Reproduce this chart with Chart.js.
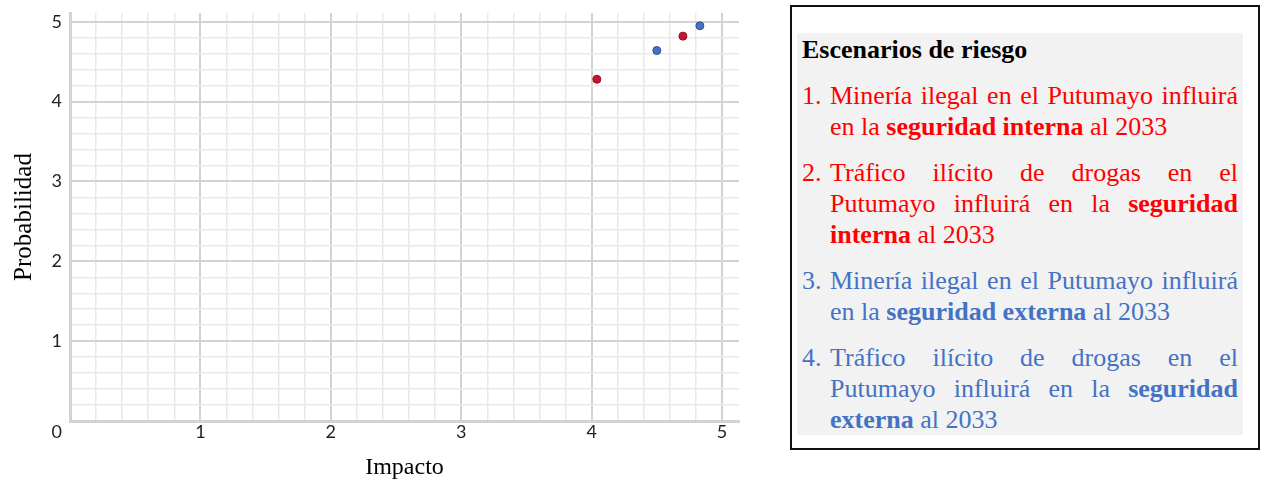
<!DOCTYPE html>
<html lang="es">
<head>
<meta charset="utf-8">
<title>Escenarios de riesgo</title>
<script src="https://cdn.jsdelivr.net/npm/chart.js@4.4.1/dist/chart.umd.min.js"></script>
<style>
  html, body { margin: 0; padding: 0; background: #fff; }
  body { width: 1264px; height: 481px; position: relative; overflow: hidden; }
  #chartBox { position: absolute; left: 0; top: 0; width: 760px; height: 481px; }
  #leyenda {
    position: absolute; left: 790px; top: 5px;
    width: 466px; height: 441px;
    border: 2px solid #111; background: #fff;
    font-family: "Liberation Serif", "Times New Roman", serif;
    font-size: 26px; line-height: 31px;
  }
  #leyenda .fondo {
    position: absolute; left: 5px; top: 26px; width: 436px;
    padding: 1px 5px 0 5px; background: #f2f2f2;
  }
  #leyenda h3 { margin: 0; font-size: 26px; font-weight: bold; color: #000; }
  #leyenda .item { display: flex; margin-top: 15px; }
  #leyenda .num { width: 28px; flex: none; }
  #leyenda .txt { width: 408px; text-align: justify; }
  .rojo { color: #ff0000; }
  .azul { color: #4472c4; }
</style>
</head>
<body>
<div id="chartBox"><canvas id="riesgo"></canvas></div>

<div id="leyenda">
  <div class="fondo">
    <h3>Escenarios de riesgo</h3>
    <div class="item rojo"><span class="num">1.</span><span class="txt">Minería ilegal en el Putumayo influirá en la <b>seguridad interna</b> al 2033</span></div>
    <div class="item rojo"><span class="num">2.</span><span class="txt">Tráfico ilícito de drogas en el Putumayo influirá en la <b>seguridad interna</b> al 2033</span></div>
    <div class="item azul"><span class="num">3.</span><span class="txt">Minería ilegal en el Putumayo influirá en la <b>seguridad externa</b> al 2033</span></div>
    <div class="item azul"><span class="num">4.</span><span class="txt">Tráfico ilícito de drogas en el Putumayo influirá en la <b>seguridad externa</b> al 2033</span></div>
  </div>
</div>

<script>
// datos
var escenarios = ['1', '2', '3', '4'];
var impacto = [4.04, 4.70, 4.50, 4.83];
var probabilidad = [4.28, 4.82, 4.64, 4.95];

var colorPunto = ['#cc1230', '#cc1230', '#4472c4', '#4472c4'];
var bordePunto = ['#8e1426', '#8e1426', '#2f528f', '#2f528f'];

function esEntero(v) {
    return Math.abs(v - Math.round(v)) < 1e-6;
}

var puntos = [];
for (var i = 0; i < escenarios.length; i++) {
    puntos.push({ x: impacto[i], y: probabilidad[i] });
}

var gridMayor = '#d3d3d3';
var gridMenor = '#e9e9e9';

function rejilla() {
    return {
        color: function(ctx) { return ctx.tick && esEntero(ctx.tick.value) ? gridMayor : gridMenor; },
        lineWidth: function(ctx) { return ctx.tick && esEntero(ctx.tick.value) ? 2 : 1.5; },
        drawTicks: false
    };
}

new Chart(document.getElementById('riesgo'), {
    type: 'scatter',
    data: {
        datasets: [{
            label: 'Escenarios',
            data: puntos,
            pointRadius: 4,
            pointHoverRadius: 4,
            pointBackgroundColor: colorPunto,
            pointBorderColor: bordePunto,
            pointBorderWidth: 1
        }]
    },
    options: {
        responsive: true,
        maintainAspectRatio: false,
        animation: false,
        layout: { padding: { left: 0, top: 13, right: 21, bottom: 0 } },
        plugins: {
            legend: { display: false },
            tooltip: { enabled: false }
        },
        scales: {
            x: {
                type: 'linear',
                min: 0,
                max: 5.13,
                grid: rejilla(),
                border: { color: gridMayor, width: 3 },
                ticks: {
                    stepSize: 0.2,
                    includeBounds: false,
                    autoSkip: false,
                    maxRotation: 0,
                    padding: 0,
                    color: '#222',
                    font: { family: 'Lato', size: 18 },
                    callback: function(v) {
                        if (!esEntero(v) || Math.round(v) === 0) return '';
                        return String(Math.round(v));
                    }
                },
                title: {
                    display: true,
                    text: 'Impacto',
                    color: '#000',
                    font: { family: 'Liberation Serif', size: 24, lineHeight: 1.1 },
                    padding: { top: 0, bottom: 0 }
                },
                afterFit: function(scale) { scale.height = 60; }
            },
            y: {
                type: 'linear',
                min: 0,
                max: 5.11,
                grid: rejilla(),
                border: { color: gridMayor, width: 3 },
                ticks: {
                    stepSize: 0.2,
                    includeBounds: false,
                    autoSkip: false,
                    padding: 8,
                    color: '#222',
                    font: { family: 'Lato', size: 18 },
                    callback: function(v) {
                        if (!esEntero(v)) return '';
                        if (Math.round(v) === 0) return ['', '0'];
                        return String(Math.round(v));
                    }
                },
                title: {
                    display: true,
                    text: 'Probabilidad',
                    color: '#000',
                    font: { family: 'Liberation Serif', size: 25, lineHeight: 1.1 },
                    padding: { top: 11, bottom: 0 }
                },
                afterFit: function(scale) {
                    scale.width = 70;
                    scale.paddingTop = 0;
                    scale.paddingBottom = 0;
                }
            }
        }
    }
});
</script>
</body>
</html>
